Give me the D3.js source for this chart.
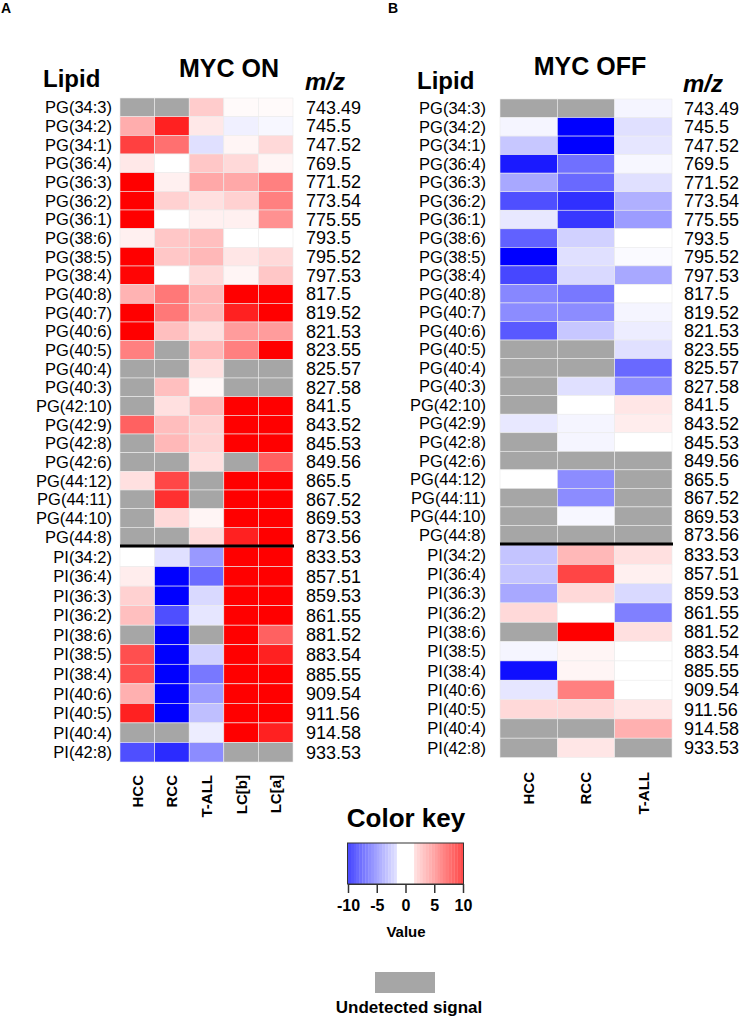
<!DOCTYPE html>
<html>
<head>
<meta charset="utf-8">
<script src="https://cdn.jsdelivr.net/npm/d3@7"></script>
<style>
  body { margin: 0; background: #fff; }
  text { font-family: "Liberation Sans", Arial, sans-serif; fill: #000; }
</style>
</head>
<body>
<svg width="745" height="1020"></svg>
<script>
// row labels (same for both panels)
const pgLipids = ["PG(34:3)", "PG(34:2)", "PG(34:1)", "PG(36:4)", "PG(36:3)", "PG(36:2)", "PG(36:1)", "PG(38:6)",
  "PG(38:5)", "PG(38:4)", "PG(40:8)", "PG(40:7)", "PG(40:6)", "PG(40:5)", "PG(40:4)", "PG(40:3)",
  "PG(42:10)", "PG(42:9)", "PG(42:8)", "PG(42:6)", "PG(44:12)", "PG(44:11)", "PG(44:10)", "PG(44:8)"]
const piLipids = ["PI(34:2)", "PI(36:4)", "PI(36:3)", "PI(36:2)", "PI(38:6)", "PI(38:5)", "PI(38:4)",
  "PI(40:6)", "PI(40:5)", "PI(40:4)", "PI(42:8)"]
const pgMz = ["743.49", "745.5", "747.52", "769.5", "771.52", "773.54", "775.55", "793.5", "795.52", "797.53",
  "817.5", "819.52", "821.53", "823.55", "825.57", "827.58", "841.5", "843.52", "845.53", "849.56",
  "865.5", "867.52", "869.53", "873.56"]
const piMz = ["833.53", "857.51", "859.53", "861.55", "881.52", "883.54", "885.55", "909.54", "911.56", "914.58", "933.53"]

const colsOn = ["HCC", "RCC", "T-ALL", "LC[b]", "LC[a]"]
const colsOff = ["HCC", "RCC", "T-ALL"]

// null = undetected signal
const mycOnPG = [
  [null, null, 2, 0.2, 0.2],
  [3.2, 8.7, 0.9, -0.6, -0.3],
  [7.5, 5.6, -1.2, 0.4, 1.5],
  [0.9, 0, 2.2, 1.5, 0.4],
  [10, 0.6, 3.4, 3.4, 5],
  [10, 1.8, 1.2, 1.8, 5],
  [10, 0, 0.6, 0.6, 4.3],
  [0.6, 2.2, 2.5, 0, 0],
  [10, 2.2, 2.8, 1, 1.5],
  [9.8, 0, 1.5, 0.4, 2.2],
  [3, 5.3, 2.8, 10, 10],
  [10, 5.3, 2.8, 8.7, 10],
  [10, 2.5, 1.2, 3.9, 3.9],
  [5, null, 2.8, 5, 10],
  [null, null, 1.2, null, null],
  [null, 2.5, 0.3, null, null],
  [null, 1.2, 2.8, 10, 10],
  [6.2, 2.6, 1.8, 10, 10],
  [null, 2.8, 1.7, 10, 10],
  [null, null, 1.2, null, 6.2],
  [1.2, 7.2, null, 10, 10],
  [null, 8.1, null, 10, 10],
  [null, 1.5, 0.4, 10, 10],
  [null, null, 1.4, 8.7, 10]
]
const mycOnPI = [
  [0, -1.2, -4, 10, 10],
  [0.7, -10, -5.8, 10, 10],
  [1.8, -10, -1.5, 10, 10],
  [2.5, -6.9, -1, 10, 10],
  [null, -10, null, 10, 6.2],
  [6.9, -10, -1.8, 10, 8.7],
  [6.9, -10, -5.3, 10, 10],
  [3.1, -10, -3.9, 10, 10],
  [8.7, -10, -2.5, 10, 10],
  [null, null, -0.7, 10, 8.7],
  [-6.9, -8.3, -4.5, null, null]
]
const mycOffPG = [
  [null, null, -0.4],
  [-0.4, -10, -1.2],
  [-2.2, -10, -1],
  [-9, -5.6, -0.3],
  [-3.4, -5.9, -1.2],
  [-6.9, -8.1, -3.1],
  [-0.9, -7.8, -3.9],
  [-6.2, -1.8, 0],
  [-10, -1.2, -0.2],
  [-7.2, -1.5, -3.4],
  [-4.7, -5.3, 0],
  [-4.5, -4.5, -0.4],
  [-6.5, -2.2, -0.7],
  [null, null, -1.2],
  [null, null, -5.9],
  [null, -1.2, -4.5],
  [null, 0, 1],
  [-0.9, -0.4, 0.7],
  [null, -0.4, 0],
  [null, null, null],
  [0, -4.5, null],
  [null, -4.5, null],
  [null, -0.3, null],
  [null, null, null]
]
const mycOffPI = [
  [-2.3, 2.8, 1.2],
  [-2.3, 7.3, 0.6],
  [-3.4, 1.5, -1.5],
  [1.5, 0, -5],
  [null, 10, 1.2],
  [-0.4, 0.4, 0],
  [-9.4, 0.4, 0],
  [-1, 5, 0],
  [1.5, 1.5, 1],
  [null, null, 3.1],
  [null, 1, null]
]
const keyTicks = [-10, -5, 0, 5, 10]

const svg = d3.select("svg")
const grey = "#a6a6a6"
const color = d3.scaleLinear().domain([-10, 0, 10]).range(["#0000ff", "#ffffff", "#ff0000"]).clamp(true)

function drawPanel(opts) {
  const g = svg.append("g")
  const x = d3.scaleBand().domain(opts.cols).range(opts.xRange)
  const yPG = d3.scaleBand().domain(pgLipids).range(opts.pgRange)
  const yPI = d3.scaleBand().domain(piLipids).range(opts.piRange)

  const blocks = [
    { rows: pgLipids, mz: pgMz, vals: opts.pg, y: yPG },
    { rows: piLipids, mz: piMz, vals: opts.pi, y: yPI }
  ]

  blocks.forEach((b) => {
    const cells = []
    b.vals.forEach((row, i) => row.forEach((v, j) => cells.push({ r: b.rows[i], c: opts.cols[j], v })))

    g.selectAll(null)
      .data(cells)
      .join("rect")
      .attr("x", (d) => x(d.c))
      .attr("y", (d) => b.y(d.r))
      .attr("width", x.bandwidth())
      .attr("height", b.y.bandwidth())
      .attr("fill", (d) => (d.v === null ? grey : color(d.v)))
      .attr("stroke", "#ececec")
      .attr("stroke-width", 0.6)

    g.selectAll(null)
      .data(b.rows)
      .join("text")
      .attr("x", opts.labelX)
      .attr("y", (d) => b.y(d) + b.y.bandwidth() / 2)
      .attr("dy", "0.36em")
      .attr("text-anchor", "end")
      .attr("font-size", 16.5)
      .text((d) => d)

    g.selectAll(null)
      .data(b.mz)
      .join("text")
      .attr("x", opts.mzX)
      .attr("y", (d, i) => b.y(b.rows[i]) + b.y.bandwidth() / 2)
      .attr("dy", "0.36em")
      .attr("font-size", 18)
      .text((d) => d)
  })

  // separator between PG and PI
  g.append("line")
    .attr("x1", opts.xRange[0])
    .attr("x2", opts.xRange[1] + 1)
    .attr("y1", opts.pgRange[1])
    .attr("y2", opts.pgRange[1])
    .attr("stroke", "#000")
    .attr("stroke-width", 3)

  // column labels
  g.selectAll(null)
    .data(opts.cols)
    .join("text")
    .attr("transform", (d) => `translate(${x(d) + x.bandwidth() / 2},${opts.colLabelY}) rotate(-90)`)
    .attr("dy", "0.36em")
    .attr("text-anchor", "end")
    .attr("font-size", 15)
    .attr("font-weight", "bold")
    .text((d) => d)

  // headers
  g.append("text").attr("x", opts.lipidX).attr("y", opts.lipidY)
    .attr("font-size", 24).attr("font-weight", "bold").text("Lipid")
  g.append("text").attr("x", opts.titleX).attr("y", opts.titleY)
    .attr("text-anchor", "middle").attr("font-size", 25).attr("font-weight", "bold").text(opts.title)
  g.append("text").attr("x", opts.mzX - 1).attr("y", opts.mzHeadY)
    .attr("font-size", 24).attr("font-weight", "bold").attr("font-style", "italic").text("m/z")
  g.append("text").attr("x", opts.panelX).attr("y", 13)
    .attr("font-size", 14).attr("font-weight", "bold").text(opts.panel)
}

drawPanel({
  panel: "A", panelX: 1, title: "MYC ON", cols: colsOn, pg: mycOnPG, pi: mycOnPI,
  xRange: [120, 293], pgRange: [98, 546], piRange: [547, 762],
  labelX: 112, mzX: 306, colLabelY: 775,
  lipidX: 43, lipidY: 87, titleX: 229, titleY: 77, mzHeadY: 90
})

drawPanel({
  panel: "B", panelX: 388, title: "MYC OFF", cols: colsOff, pg: mycOffPG, pi: mycOffPI,
  xRange: [500, 672], pgRange: [99, 544], piRange: [545, 757.5],
  labelX: 486, mzX: 684, colLabelY: 772,
  lipidX: 417, lipidY: 89, titleX: 590, titleY: 75, mzHeadY: 92
})

// color key
const key = svg.append("g")
key.append("text").attr("x", 406).attr("y", 827).attr("text-anchor", "middle")
  .attr("font-size", 26).attr("font-weight", "bold").text("Color key")

const kx = d3.scaleLinear().domain([-10, 10]).range([348, 463])
const bins = d3.range(-10, 10, 0.5)
key.selectAll(null)
  .data(bins)
  .join("rect")
  .attr("x", (d) => kx(d))
  .attr("y", 843)
  .attr("width", kx(0.5) - kx(0) + 0.3)
  .attr("height", 41)
  .attr("fill", (d) => {
    const mid = d + 0.25
    if (Math.abs(mid) < 1.6) return "#ffffff"
    return d3.interpolateRgb("#ffffff", color(mid))(0.72)
  })
key.append("rect").attr("x", 347.5).attr("y", 843).attr("width", 116).attr("height", 41)
  .attr("fill", "none").attr("stroke", "#333").attr("stroke-width", 1)

const keyAxis = key.append("g")
  .attr("transform", "translate(0,884)")
  .call(d3.axisBottom(kx).tickValues(keyTicks).tickSize(9).tickFormat((d) => String(d)))
keyAxis.select(".domain").attr("stroke", "#333")
keyAxis.selectAll(".tick line").attr("stroke", "#333").attr("stroke-width", 1.5)
keyAxis.selectAll(".tick text")
  .attr("y", 16).attr("font-size", 16).attr("font-weight", "bold")
  .style("font-family", "'Liberation Sans', Arial, sans-serif").attr("fill", "#000")

key.append("text").attr("x", 406).attr("y", 937).attr("text-anchor", "middle")
  .attr("font-size", 15).attr("font-weight", "bold").text("Value")

key.append("rect").attr("x", 375).attr("y", 972).attr("width", 60).attr("height", 21).attr("fill", grey)
key.append("text").attr("x", 409).attr("y", 1013).attr("text-anchor", "middle")
  .attr("font-size", 17).attr("font-weight", "bold").text("Undetected signal")
</script>
</body>
</html>
